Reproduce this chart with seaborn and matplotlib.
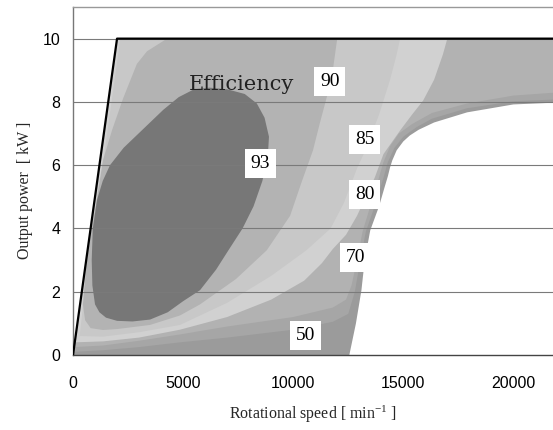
import matplotlib
matplotlib.use("Agg")
import matplotlib.pyplot as plt
import seaborn as sns

# ---- operating envelope (max power line) ----
env_line_x = [0, 2000, 22000]
env_line_y = [0, 10, 10]

# area inside envelope (outer bound of efficiency map)
env_x = [0, 2000, 22000, 22000, 20000, 17900, 16400, 15700, 15300, 15000,
         14700, 14500, 14400, 14300, 14150, 13900, 13500, 13250, 13100,
         12850, 12550]
env_y = [0, 10, 10, 7.98, 7.92, 7.67, 7.35, 7.12, 6.94, 6.75,
         6.47, 6.15, 5.93, 5.65, 5.3, 4.7, 3.94, 3.0, 2.05,
         1.0, 0]

# efficiency regions, outermost first
eff50_x = [20, 1360, 3000, 4860, 7000, 10000, 11800, 12500, 12800, 13050,
           13300, 13700, 14100, 14300, 14600, 15000, 15600, 16300, 17900,
           20000, 22000, 22000, 2000]
eff50_y = [0.1, 0.15, 0.25, 0.4, 0.55, 0.8, 1.05, 1.3, 2.0, 3.0,
           3.9, 4.7, 5.6, 6.1, 6.55, 6.9, 7.2, 7.47, 7.8,
           8.02, 8.08, 10, 10]

eff70_x = [50, 1360, 3000, 4860, 7000, 10000, 11800, 12400, 12650, 12900,
           13150, 13500, 13850, 14100, 14400, 14800, 15400, 16300, 17900,
           20000, 22000, 22000, 2000]
eff70_y = [0.25, 0.3, 0.45, 0.65, 0.9, 1.2, 1.5, 1.75, 2.2, 3.0,
           3.9, 4.7, 5.5, 6.1, 6.6, 7.0, 7.3, 7.65, 7.95,
           8.2, 8.3, 10, 10]

eff80_x = [80, 1360, 3000, 4860, 7000, 9000, 10500, 11300, 11800, 12400,
           12900, 13300, 13700, 14100, 14860, 15400, 15900, 16400, 16800,
           17000, 2000]
eff80_y = [0.4, 0.43, 0.55, 0.8, 1.2, 1.75, 2.35, 2.9, 3.35, 3.8,
           4.4, 5.0, 5.6, 6.35, 7.1, 7.6, 8.04, 8.7, 9.5,
           10, 10]

eff85_x = [300, 1360, 3000, 4860, 7000, 9000, 10600, 11700, 12300, 12900,
           13300, 13900, 14400, 14700, 14860, 2150, 1850, 1350, 850, 450]
eff85_y = [0.6, 0.58, 0.72, 0.95, 1.65, 2.5, 3.31, 4.0, 4.8, 5.9,
           6.5, 7.6, 8.7, 9.5, 10, 10, 8.5, 6.0, 3.5, 1.5]

eff90_x = [800, 1360, 2000, 3500, 4860, 5770, 7400, 8800, 9860, 10400,
           10900, 11200, 11545, 11800, 12000, 4270, 3360, 2900, 2270, 1770,
           1360, 1100, 850, 600, 450, 550]
eff90_y = [0.85, 0.79, 0.82, 0.95, 1.25, 1.6, 2.4, 3.31, 4.4, 5.5,
           6.47, 7.3, 8.2, 9.0, 10, 10, 9.6, 9.2, 8.1, 7.1,
           6.15, 5.0, 4.0, 2.8, 1.6, 1.1]

eff93_x = [1000, 880, 850, 900, 1090, 1350, 1680, 2300, 3050, 4100,
           4800, 5500, 6200, 7000, 7800, 8350, 8700, 8900, 8850, 8600,
           8200, 7700, 7050, 6500, 5770, 5000, 4300, 3500, 2700, 2000,
           1500, 1200]
eff93_y = [1.6, 2.2, 3.0, 4.0, 4.9, 5.5, 6.0, 6.55, 7.05, 7.75,
           8.15, 8.4, 8.45, 8.4, 8.25, 7.95, 7.5, 6.9, 6.3, 5.5,
           4.7, 4.0, 3.3, 2.7, 2.05, 1.7, 1.35, 1.12, 1.06, 1.08,
           1.18, 1.35]

regions = [
    (env_x, env_y, "#9b9b9b"),
    (eff50_x, eff50_y, "#a6a6a6"),
    (eff70_x, eff70_y, "#b2b2b2"),
    (eff80_x, eff80_y, "#d1d1d1"),
    (eff85_x, eff85_y, "#c8c8c8"),
    (eff90_x, eff90_y, "#b3b3b3"),
    (eff93_x, eff93_y, "#777777"),
]

# contour labels
label_text = ["90", "85", "80", "70", "50", "93"]
label_x = [11660, 13250, 13250, 12840, 10570, 8500]
label_y = [8.64, 6.81, 5.08, 3.08, 0.62, 6.06]

x_ticks = [0, 5000, 10000, 15000, 20000]
y_ticks = [0, 2, 4, 6, 8, 10]

sns.set_theme(style="white")
plt.rcParams["font.family"] = ["Liberation Sans", "DejaVu Sans"]
plt.rcParams["mathtext.default"] = "regular"

fig = plt.figure(figsize=(5.53, 4.30), dpi=100)
ax = fig.add_axes([73 / 553, 75 / 430, 1 - 73 / 553, 348 / 430])

for xs, ys, col in regions:
    ax.fill(xs, ys, color=col, lw=0, zorder=1)

for yv in y_ticks[1:]:
    ax.axhline(yv, color="#7a7a7a", lw=0.8, zorder=2)

sns.lineplot(x=env_line_x, y=env_line_y, sort=False, estimator=None,
             color="black", lw=1.6, ax=ax, zorder=3)

for t, xv, yv in zip(label_text, label_x, label_y):
    ax.text(xv, yv, t, ha="center", va="center", fontsize=14,
            family="Liberation Serif", color="black", zorder=4,
            bbox=dict(boxstyle="square,pad=0.3", fc="white", ec="none"))

ax.text(5270, 8.39, "Efficiency", ha="left", va="baseline", fontsize=15,
        family="DejaVu Serif", color="#222222", zorder=4)

ax.set_xlim(0, 21800)
ax.set_ylim(0, 11)
ax.set_xticks(x_ticks)
ax.set_yticks(y_ticks)
ax.tick_params(axis="both", direction="in", length=4, color="#777777",
               labelsize=11.5, labelcolor="black")
ax.tick_params(axis="x", pad=15)
ax.tick_params(axis="y", pad=9)

for side in ["left", "top", "bottom"]:
    ax.spines[side].set_visible(True)
    ax.spines[side].set_linewidth(1.0)
ax.spines["left"].set_color("#777777")
ax.spines["top"].set_color("#999999")
ax.spines["bottom"].set_color("#444444")
ax.spines["right"].set_visible(False)

ax.set_xlabel("Rotational speed [ min$^{-1}$ ]", family="Liberation Serif",
              fontsize=11.5)
ax.set_ylabel("Output power  [ kW ]", family="Liberation Serif", fontsize=11.5)
ax.xaxis.set_label_coords(0.5, -0.14)
ax.yaxis.set_label_coords(-0.083, 0.474)

fig.savefig("out.png", dpi=100)
